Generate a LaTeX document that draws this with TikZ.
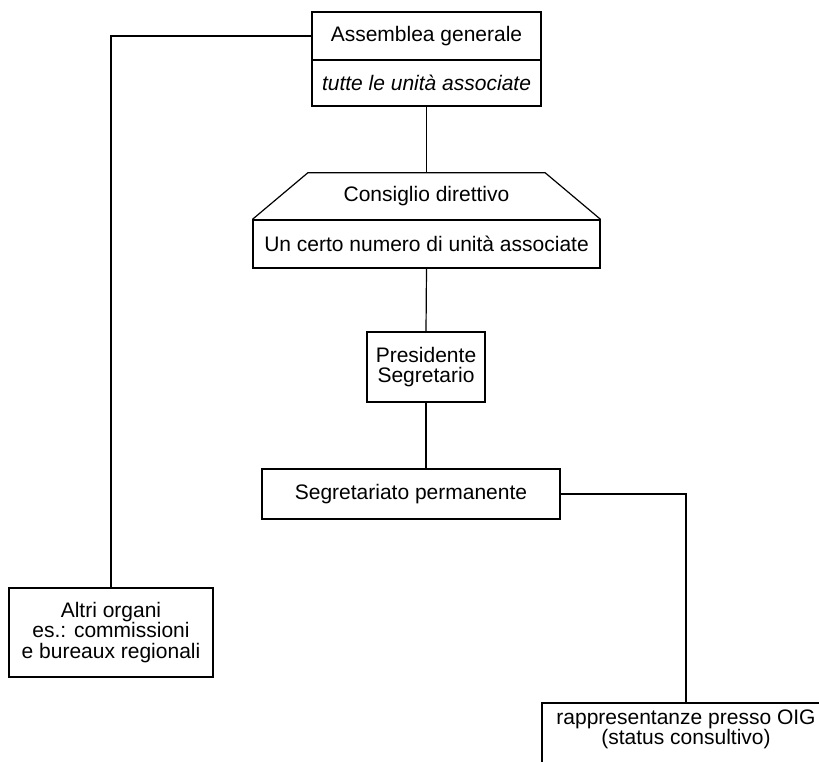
\documentclass[tikz,border=0pt]{standalone}
\usepackage{fontspec}
\setmainfont{Liberation Sans}
\begin{document}
\begin{tikzpicture}[x=1pt,y=-1pt,
  box/.style={draw, line width=1.2pt, inner sep=0pt, align=center, font=\fontsize{21}{20.5}\selectfont},
  txt/.style={inner sep=0pt, align=center, font=\fontsize{21}{20.5}\selectfont},
  conn/.style={line width=1.2pt}]
\useasboundingbox (0,0) rectangle (819,762);
\clip (0,0) rectangle (819,762);
\node[box, minimum width=229, minimum height=48] (ag) at (426.5,36) {Assemblea generale};
\node[box, minimum width=229, minimum height=46] (agu) at (426.5,83) {\itshape tutte le unità associate};
\node[txt, minimum width=237, minimum height=47] (cd) at (426.5,196.5) {Consiglio direttivo};
\node[box, minimum width=347, minimum height=48] (cdu) at (426.5,244) {Un certo numero di unità associate};
\draw[conn] (cdu.north west) -- (cd.north west) -- (cd.north east) -- (cdu.north east);
\node[box, minimum width=118, minimum height=70] (ps) at (426,367) {Presidente\\Segretario};
\node[box, minimum width=298, minimum height=50] (sp) at (411,494) {Segretariato permanente};
\node[box, minimum width=204, minimum height=89] (ao) at (111,632.5) {Altri organi\\es.: commissioni\\e bureaux regionali};
\node[box, minimum width=288, minimum height=72] (rp) at (686,739) {};
\node[txt] (rpt) at (686,729.5) {rappresentanze presso OIG\\(status consultivo)};
\draw[conn] (ag.west) -| (ao.north);
\draw[conn] (agu.south) -- (cd.north);
\draw[conn] (cdu.south) -- (ps.north);
\draw[conn] (ps.south) -- (ps.south |- sp.north);
\draw[conn] (sp.east) -| (rp.north);
\end{tikzpicture}
\end{document}
